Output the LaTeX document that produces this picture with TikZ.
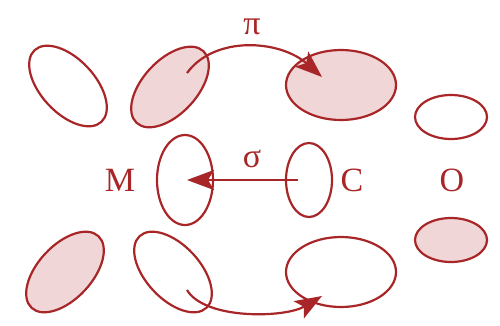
\documentclass[tikz,border=0pt]{standalone}
\usepackage{fontspec}
\setmainfont{Liberation Serif}
\usetikzlibrary{shapes.geometric,arrows.meta}
\definecolor{dred}{RGB}{168,38,40}
\definecolor{pink}{RGB}{240,214,214}
\begin{document}
\begin{tikzpicture}[x=1pt,y=-1pt,
  orb/.style={ellipse,draw=dred,line width=2.2pt,inner sep=0pt,outer sep=0pt},
  full/.style={orb,fill=pink},
  tilted/.style={minimum width=98pt,minimum height=54pt},
  big/.style={minimum width=110pt,minimum height=70pt},
  small/.style={minimum width=72pt,minimum height=44pt},
  lab/.style={text=dred,font=\fontsize{34}{34}\selectfont,inner sep=0pt},
  conn/.style={draw=dred,line width=2.2pt,-{Stealth[length=27pt,width=20pt,inset=6pt]}}]
\useasboundingbox (0,0) rectangle (500,325);
% top row
\node[orb,tilted,rotate=-47] (e1) at (68,86) {};
\node[full,tilted,rotate=47] (e2) at (170,87) {};
\node[full,big] (e3) at (341,85) {};
\node[orb,small] (e4) at (451,117) {};
% middle
\node[orb,minimum width=56pt,minimum height=90pt] (e5) at (185,180) {};
\node[orb,minimum width=46pt,minimum height=74pt] (e6) at (309,180) {};
% bottom row
\node[full,tilted,rotate=47] (e7) at (65,272) {};
\node[orb,tilted,rotate=-47] (e8) at (173,272) {};
\node[orb,big] (e9) at (341,272) {};
\node[full,small] (e10) at (451,240) {};
% labels
\node[lab] (lpi) at (252,27) {π};
\node[lab] (lsig) at (252,159) {σ};
\node[lab] (lM) at (120,180) {M};
\node[lab] (lC) at (352,180) {C};
\node[lab] (lO) at (452,180) {O};
% arrow endpoints
\coordinate (a1) at (187,73);
\coordinate (b1) at (322,77);
\coordinate (a2) at (298,180);
\coordinate (b2) at (187,180);
\coordinate (a3) at (187,290);
\coordinate (b3) at (322,296);
\draw[conn] (a1) .. controls (215,35) and (280,40) .. (b1);
\draw[conn] (a2) -- (b2);
\draw[conn] (a3) .. controls (205,320) and (285,318) .. (b3);
\end{tikzpicture}
\end{document}
